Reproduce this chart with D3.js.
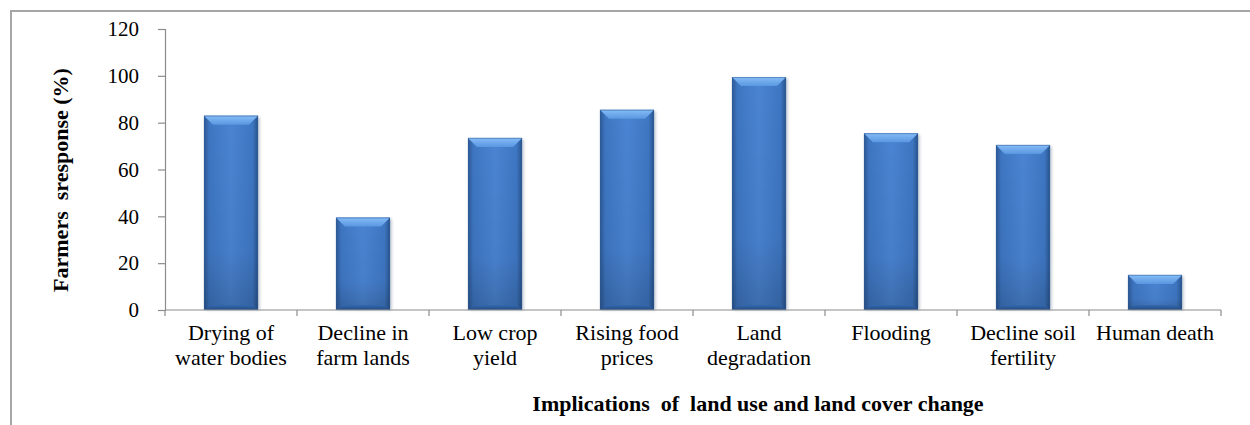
<!DOCTYPE html>
<html>
<head>
<meta charset="utf-8">
<script src="https://cdn.jsdelivr.net/npm/d3@7"></script>
</head>
<body style="margin:0">
<svg id="chart" width="1250" height="425" font-family="Liberation Serif"></svg>
<script>
// Implications of land use / land cover change, share of farmers responding
const categories = [
  ["Drying of", "water bodies"],
  ["Decline in", "farm lands"],
  ["Low crop", "yield"],
  ["Rising food", "prices"],
  ["Land", "degradation"],
  ["Flooding"],
  ["Decline soil", "fertility"],
  ["Human death"]
];
const values = [83, 39.5, 73.5, 85.5, 99.5, 75.5, 70.5, 15];
const yTicks = [0, 20, 40, 60, 80, 100, 120];
const yTitle = "Farmers  sresponse (%)";
const xTitle = "Implications  of  land use and land cover change";

const SERIF = "Liberation Serif";

const svg = d3.select("#chart");
const plot = { left: 165, right: 1221, top: 29, bottom: 310 };

// Outer frame (left and top edges visible)
svg.append("path")
  .attr("d", "M11,425 V11 H1250")
  .attr("fill", "none")
  .attr("stroke", "#a6a6a6")
  .attr("stroke-width", 2);

const idx = categories.map((d, i) => i);
const x = d3.scaleBand()
  .domain(idx)
  .range([plot.left, plot.right])
  .paddingInner(0.59)
  .paddingOuter(0.295);

const y = d3.scaleLinear().domain([0, 120]).range([plot.bottom, plot.top]);

// Gradients for the bevelled bars
const defs = svg.append("defs");
const face = defs.append("linearGradient").attr("id", "face")
  .attr("x1", 0).attr("x2", 1).attr("y1", 0).attr("y2", 0);
[[0, "#2b5894"], [0.1, "#3e76c2"], [0.5, "#4a84d2"], [0.9, "#3e76c2"], [1, "#28538c"]]
  .forEach(([o, c]) => face.append("stop").attr("offset", o).attr("stop-color", c));
const shade = defs.append("linearGradient").attr("id", "shade")
  .attr("x1", 0).attr("x2", 0).attr("y1", 0).attr("y2", 1);
[[0, "#000", 0], [0.7, "#000", 0.04], [1, "#000", 0.18]]
  .forEach(([o, c, a]) => shade.append("stop").attr("offset", o).attr("stop-color", c).attr("stop-opacity", a));
const topG = defs.append("linearGradient").attr("id", "topbevel")
  .attr("x1", 0).attr("x2", 0).attr("y1", 0).attr("y2", 1);
[[0, "#86bdf8"], [1, "#5a97e0"]]
  .forEach(([o, c]) => topG.append("stop").attr("offset", o).attr("stop-color", c));
const botG = defs.append("linearGradient").attr("id", "botbevel")
  .attr("x1", 0).attr("x2", 0).attr("y1", 0).attr("y2", 1);
[[0, "#3468ad"], [1, "#244c84"]]
  .forEach(([o, c]) => botG.append("stop").attr("offset", o).attr("stop-color", c));
defs.append("filter").attr("id", "shadow")
  .attr("x", "-20%").attr("y", "-20%").attr("width", "140%").attr("height", "140%")
  .append("feGaussianBlur").attr("stdDeviation", 1.5);

const bars = svg.append("g").selectAll("g")
  .data(values)
  .join("g")
  .attr("transform", (d, i) => `translate(${x(i)},0)`);

const bw = x.bandwidth();
const bev = 9;

bars.append("rect")
  .attr("x", 1.5).attr("y", d => y(d) + 1.5)
  .attr("width", bw).attr("height", d => y(0) - y(d) - 1.5)
  .attr("fill", "#8c9aae").attr("opacity", 0.6)
  .attr("filter", "url(#shadow)");

bars.append("rect")
  .attr("x", 0).attr("y", d => y(d))
  .attr("width", bw).attr("height", d => y(0) - y(d))
  .attr("fill", "url(#face)");

bars.append("rect")
  .attr("x", 0).attr("y", d => y(d))
  .attr("width", bw).attr("height", d => y(0) - y(d))
  .attr("fill", "url(#shade)");

bars.append("path")
  .attr("d", d => {
    const t = y(d);
    return `M0,${t} H${bw} L${bw - bev},${t + bev} H${bev} Z`;
  })
  .attr("fill", "url(#topbevel)");

bars.append("path")
  .attr("d", d => {
    const b = y(0);
    const h = Math.min(5, (y(0) - y(d)) / 3);
    return `M0,${b} H${bw} L${bw - h},${b - h} H${h} Z`;
  })
  .attr("fill", "url(#botbevel)");

bars.append("rect")
  .attr("x", 0.5).attr("y", d => y(d) + 0.5)
  .attr("width", bw - 1).attr("height", d => y(0) - y(d) - 1)
  .attr("fill", "none").attr("stroke", "#2f5d99").attr("stroke-opacity", 0.5);

// Y axis
const yAxis = d3.axisLeft(y).tickValues(yTicks).tickSize(7).tickPadding(19);
const gy = svg.append("g").attr("transform", `translate(${plot.left},0)`).call(yAxis)
  .attr("font-family", SERIF).attr("font-size", 21);
gy.selectAll("path, line").attr("stroke", "#8c8c8c").attr("stroke-width", 1.2);
gy.selectAll("text").attr("fill", "#000");

// X axis: ticks on category boundaries
const gx = svg.append("g").attr("transform", `translate(0,${plot.bottom})`);
gx.append("line")
  .attr("x1", plot.left).attr("x2", plot.right)
  .attr("stroke", "#8c8c8c").attr("stroke-width", 1.2);
const step = x.step();
gx.selectAll(".tk")
  .data(d3.range(categories.length + 1))
  .join("line")
  .attr("class", "tk")
  .attr("x1", i => plot.left + i * step).attr("x2", i => plot.left + i * step)
  .attr("y1", 0).attr("y2", 6)
  .attr("stroke", "#8c8c8c").attr("stroke-width", 1.2);

const labels = gx.selectAll(".cat")
  .data(categories)
  .join("text")
  .attr("class", "cat")
  .attr("text-anchor", "middle")
  .attr("font-size", 22)
  .attr("fill", "#000")
  .attr("transform", (d, i) => `translate(${x(i) + bw / 2},30)`);
labels.selectAll("tspan")
  .data(d => d)
  .join("tspan")
  .attr("x", 0)
  .attr("dy", (d, j) => j === 0 ? 0 : 25)
  .text(d => d);

// Axis titles
svg.append("text")
  .attr("transform", "translate(68,180) rotate(-90)")
  .attr("text-anchor", "middle")
  .attr("font-size", 22)
  .attr("font-weight", "bold")
  .attr("xml:space", "preserve")
  .text(yTitle);

svg.append("text")
  .attr("x", 758).attr("y", 411)
  .attr("text-anchor", "middle")
  .attr("font-size", 22)
  .attr("font-weight", "bold")
  .attr("xml:space", "preserve")
  .text(xTitle);

// Serif face for every label
svg.selectAll("text, tspan").style("font-family", SERIF, "important");
</script>
</body>
</html>
